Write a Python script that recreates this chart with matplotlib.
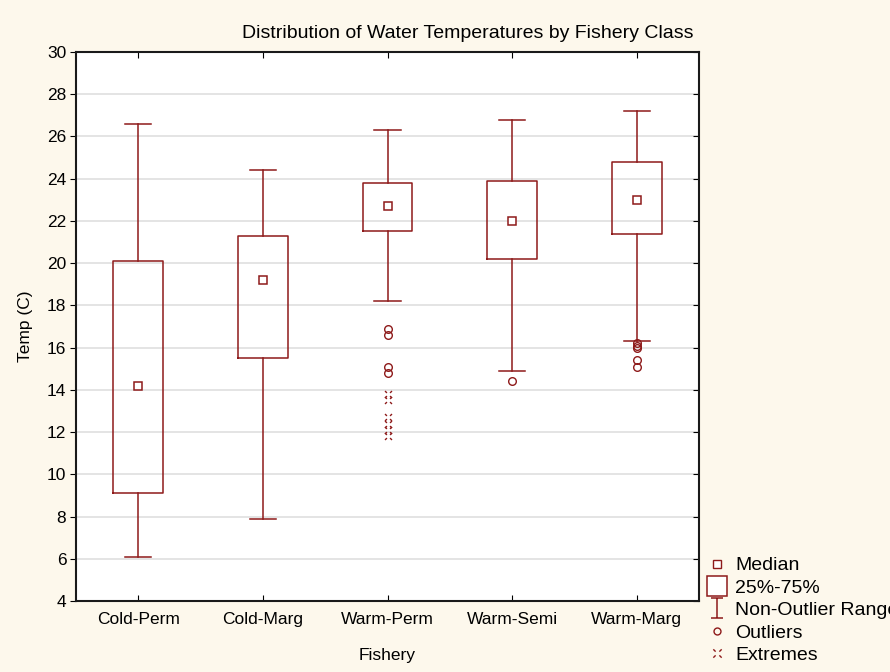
import numpy as np
import matplotlib.pyplot as plt
from matplotlib.path import Path
from matplotlib.lines import Line2D

plt.rcParams['font.family'] = ['Liberation Sans', 'DejaVu Sans']

# values
classes = ['Cold-Perm', 'Cold-Marg', 'Warm-Perm', 'Warm-Semi', 'Warm-Marg']
medians = [14.2, 19.2, 22.7, 22.0, 23.0]
q1 = [9.1, 15.5, 21.5, 20.2, 21.4]
q3 = [20.1, 21.3, 23.8, 23.9, 24.8]
whis_lo = [6.1, 7.9, 18.2, 14.9, 16.3]
whis_hi = [26.6, 24.4, 26.3, 26.8, 27.2]
outliers = [[], [], [16.9, 16.6, 15.1, 14.8], [14.4], [16.2, 16.1, 16.0, 15.4, 15.1]]
extremes = [[], [], [13.8, 13.5, 12.7, 12.4, 12.1, 11.8], [], []]

dark_red = '#8e1a1a'
bg = '#fdf8ec'

# marker shapes: I-beam for the whisker range, broken x for extremes
ibeam = Path([(-0.6, 1), (0.6, 1), (0, 1), (0, -1), (-0.6, -1), (0.6, -1)],
             [Path.MOVETO, Path.LINETO, Path.MOVETO, Path.LINETO, Path.MOVETO, Path.LINETO])
a, b = 0.45, 1.0
broken_x = Path([(a, a), (b, b), (-a, a), (-b, b), (a, -a), (b, -b), (-a, -a), (-b, -b)],
                [Path.MOVETO, Path.LINETO] * 4)

fig = plt.figure(figsize=(8.9, 6.72), dpi=100, facecolor=bg)
ax = fig.add_axes([76 / 890, 1 - 601 / 672, (699 - 76) / 890, (601 - 52) / 672])
ax.set_facecolor('white')

stats = []
for i, name in enumerate(classes):
    stats.append(dict(label=name, med=medians[i], mean=medians[i], q1=q1[i], q3=q3[i],
                      whislo=whis_lo[i], whishi=whis_hi[i], fliers=outliers[i]))

line_kw = dict(color=dark_red, linewidth=1.1)
ax.bxp(stats, positions=range(len(classes)), widths=0.4, capwidths=0.21,
       showmeans=True,
       boxprops=line_kw, whiskerprops=line_kw, capprops=line_kw,
       medianprops=dict(linestyle='none'),
       meanprops=dict(marker='s', markerfacecolor='white', markeredgecolor=dark_red,
                      markersize=6, markeredgewidth=1.1),
       flierprops=dict(marker='o', markerfacecolor='none', markeredgecolor=dark_red,
                       markersize=5.5, markeredgewidth=1.0),
       manage_ticks=False, zorder=3)

for i, ext in enumerate(extremes):
    if ext:
        ax.plot([i] * len(ext), ext, linestyle='none', marker=broken_x, markersize=5,
                markeredgecolor=dark_red, markeredgewidth=1.0, zorder=3)

ax.set_xlim(-0.5, len(classes) - 0.5)
ax.set_ylim(4, 30)
ax.set_yticks(np.arange(4, 31, 2))
ax.set_xticks(range(len(classes)))
ax.set_xticklabels(classes)
ax.yaxis.grid(True, color='#dcdcdc', linewidth=1.1)
ax.set_axisbelow(True)

for s in ax.spines.values():
    s.set_linewidth(1.5)
    s.set_color('#1a1a1a')
ax.tick_params(axis='y', direction='out', length=4, labelsize=12.5, pad=3)
ax.tick_params(axis='x', direction='in', length=4, labelsize=12.5, pad=8, top=True)
ax.tick_params(axis='y', which='both', right=True)
# right-hand ticks point into the plot
for t in ax.yaxis.get_ticklines()[1::2]:
    t.set_marker(0)

ax.set_ylabel('Temp (C)', fontsize=12.5, labelpad=10)
ax.set_xlabel('Fishery', fontsize=12.5, labelpad=15)
fig.text(468 / 890, 1 - 33 / 672, 'Distribution of Water Temperatures by Fishery Class',
         ha='center', va='center', fontsize=14)

handles = [
    Line2D([], [], linestyle='none', marker='s', markerfacecolor='white',
           markeredgecolor=dark_red, markersize=6),
    Line2D([], [], linestyle='none', marker='s', markerfacecolor='white',
           markeredgecolor=dark_red, markersize=14, markeredgewidth=1.1),
    Line2D([], [], linestyle='none', marker=ibeam, markeredgecolor=dark_red,
           markersize=14, markeredgewidth=1.1),
    Line2D([], [], linestyle='none', marker='o', markerfacecolor='none',
           markeredgecolor=dark_red, markersize=5),
    Line2D([], [], linestyle='none', marker=broken_x, markeredgecolor=dark_red,
           markersize=6, markeredgewidth=1.0),
]
labels = ['Median', '25%-75%', 'Non-Outlier Range', 'Outliers', 'Extremes']
fig.legend(handles, labels, loc='upper left', bbox_to_anchor=(698 / 890, 1 - 547 / 672),
           frameon=False, fontsize=14, handlelength=1.0, handletextpad=0.4,
           labelspacing=0.25, borderpad=0)

fig.savefig('out.png', dpi=100, facecolor=bg)
